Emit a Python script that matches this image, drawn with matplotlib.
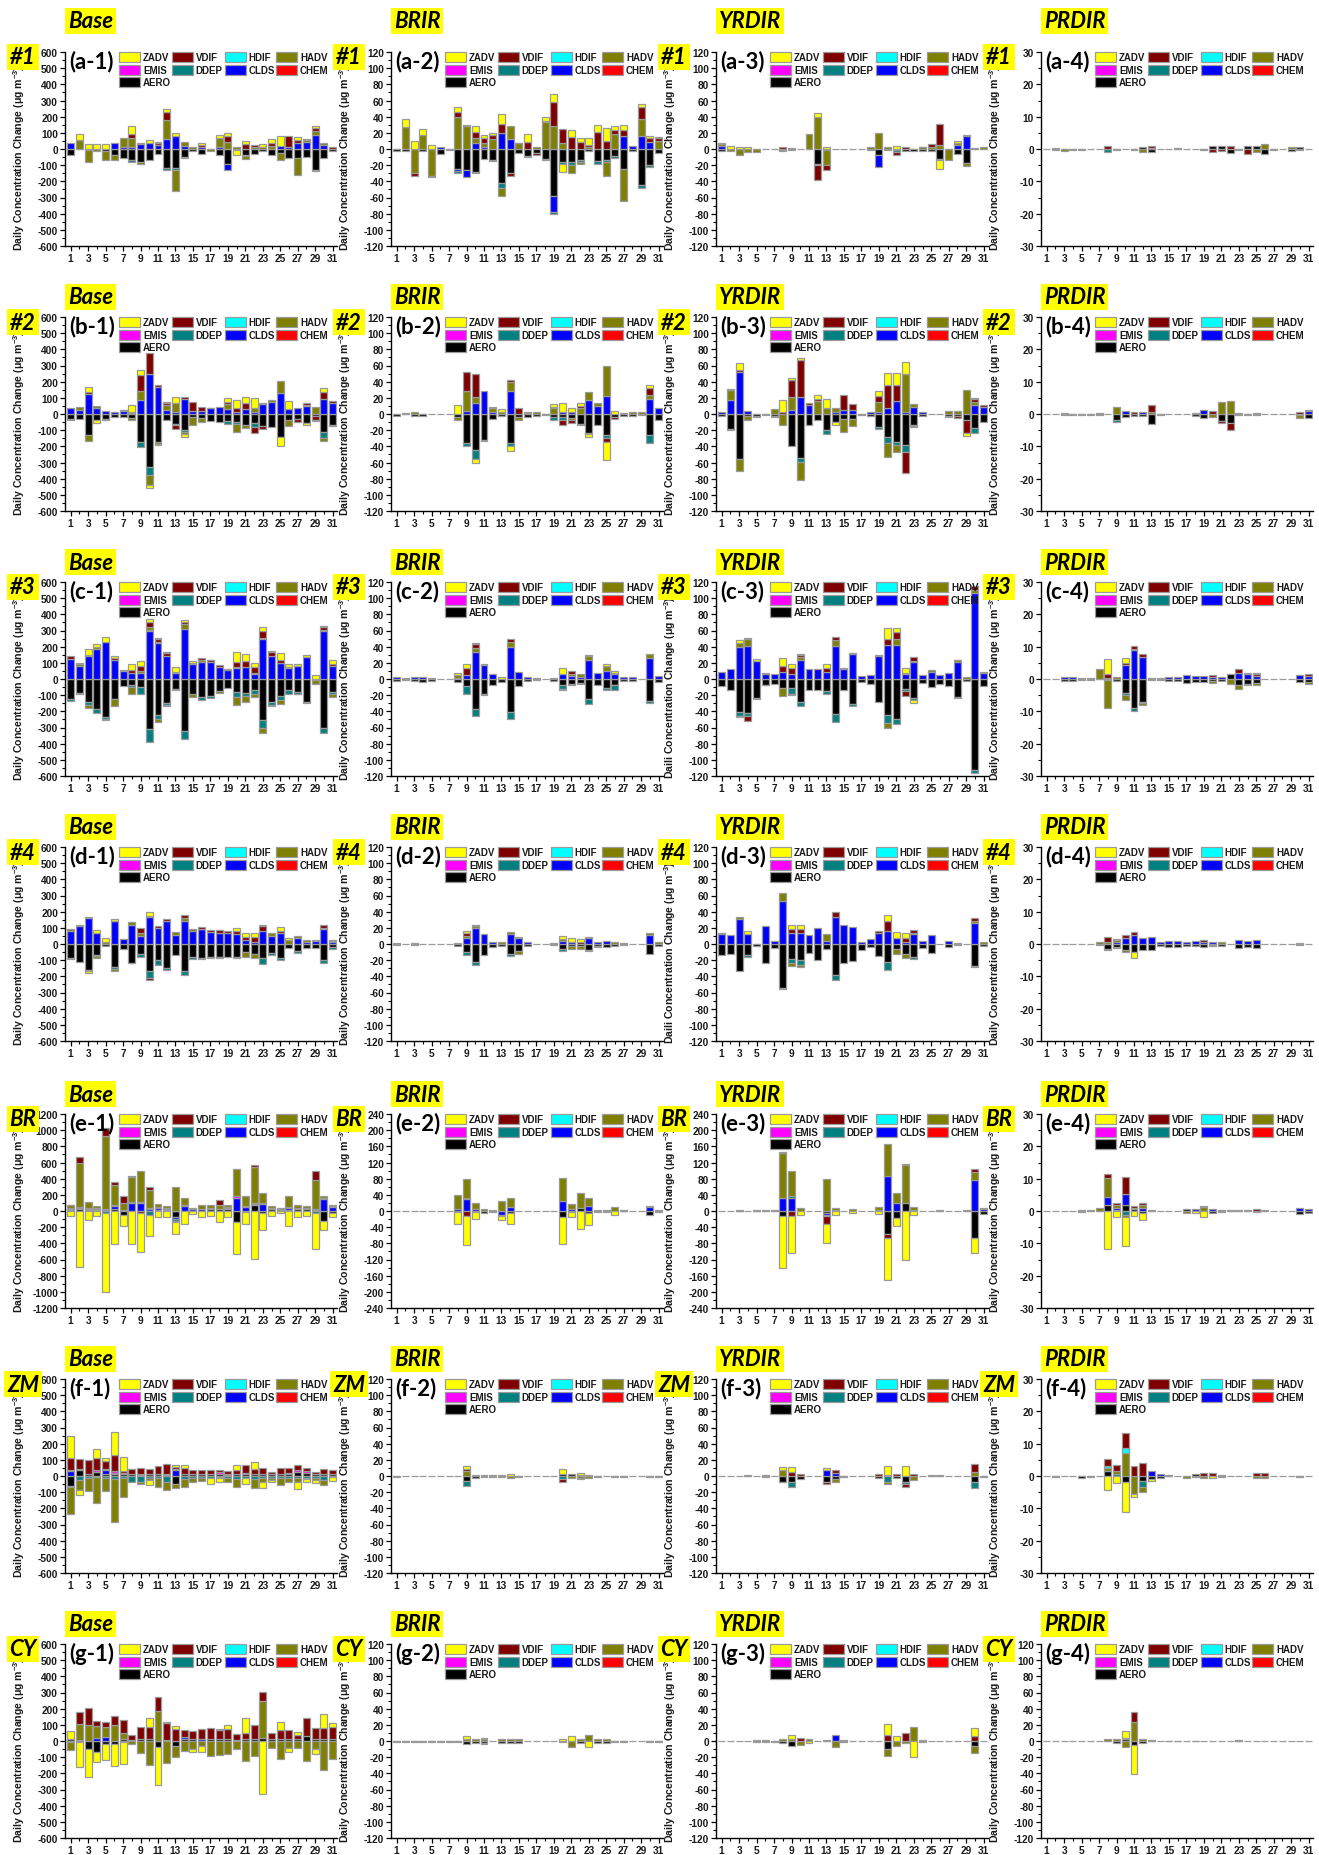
import matplotlib
matplotlib.use('Agg')
import matplotlib.pyplot as plt
from matplotlib.patches import Rectangle
from matplotlib.ticker import MultipleLocator
import numpy as np

plt.rcParams['axes.unicode_minus'] = False
plt.rcParams['mathtext.default'] = 'regular'
plt.rcParams['font.family'] = ['Liberation Sans', 'DejaVu Sans']

# ---------------- data (daily contributions) ----------------
DAYS = np.arange(1, 32)
STACK_ORDER = ['AERO', 'CHEM', 'CLDS', 'DDEP', 'EMIS', 'HADV', 'HDIF', 'VDIF', 'ZADV']
LEGEND_GRID = [['ZADV', 'VDIF', 'HDIF', 'HADV'], ['EMIS', 'DDEP', 'CLDS', 'CHEM'], ['AERO']]
COLORS = {'ZADV': '#FFFF00', 'VDIF': '#800000', 'HDIF': '#00FFFF', 'HADV': '#808000',
          'EMIS': '#FF00FF', 'DDEP': '#008080', 'CLDS': '#0000FF', 'CHEM': '#FF0000',
          'AERO': '#000000'}
COL_TITLES = ['Base', 'BRIR', 'YRDIR', 'PRDIR']
ROW_TAGS = ['#1', '#2', '#3', '#4', 'BR', 'ZM', 'CY']
ROW_LETTERS = ['a', 'b', 'c', 'd', 'e', 'f', 'g']

# ---- row a (#1) ----
A1 = dict(
    AERO={1:-35, 3:-5, 5:-10, 6:-40, 7:-55, 8:-70, 9:-80, 10:-70, 11:-30, 12:-120, 13:-115, 14:-50, 15:-10, 16:-30, 18:-40, 19:-90, 20:-5, 21:-35, 22:-30, 23:-10, 24:-40, 25:-25, 26:-55, 27:-55, 28:-50, 29:-130, 30:-55, 31:-15},
    CLDS={1:40, 6:35, 7:15, 8:10, 9:30, 10:40, 11:25, 12:60, 13:80, 14:20, 16:10, 18:15, 19:-40, 25:20, 26:15, 27:40, 28:45, 29:85, 30:25},
    DDEP={8:-10, 12:-12, 13:-12, 21:-10, 29:-5},
    HADV={2:55, 3:-75, 4:-12, 5:-60, 6:-30, 7:55, 8:60, 9:-10, 12:120, 13:-130, 14:25, 15:10, 17:-15, 18:55, 19:45, 20:10, 21:-15, 22:10, 23:10, 24:20, 25:-40, 27:-105, 28:10, 29:25, 30:10},
    VDIF={8:25, 11:15, 12:50, 14:-5, 16:15, 19:35, 21:30, 22:15, 24:20, 26:65, 27:15, 28:5, 29:20, 31:15},
    ZADV={2:40, 3:30, 4:30, 5:30, 8:45, 9:10, 10:15, 11:5, 12:20, 13:20, 16:15, 18:15, 19:20, 20:-35, 21:20, 23:20, 24:20, 25:60, 27:20, 29:10},
)
A2 = dict(
    AERO={1:-2, 2:-2, 4:-3, 6:-6, 7:-1, 8:-25, 9:-26, 10:-28, 11:-12, 12:-13, 13:-42, 14:-30, 15:-5, 16:-9, 17:-5, 18:-12, 19:-58, 20:-16, 21:-16, 22:-14, 23:-2, 24:-15, 25:-14, 26:-9, 27:-25, 28:-3, 29:-45, 30:-20, 31:-5},
    CLDS={6:2, 8:-2, 9:-9, 10:7, 11:3, 13:20, 14:12, 19:-20, 27:16, 28:4, 29:16, 30:9},
    DDEP={8:-3, 10:-2, 12:-2, 13:-6, 16:-1, 18:-2, 19:-3, 20:-2, 21:-4, 22:-2, 24:-3, 25:-2, 26:-2, 29:-3, 30:-2},
    HADV={2:27, 3:-30, 4:17, 5:-33, 8:40, 9:29, 10:6, 11:5, 12:12, 13:-10, 14:16, 15:7, 17:2, 18:33, 19:28, 20:8, 21:-10, 22:-2, 23:2, 25:-17, 26:19, 27:-39, 29:21, 31:10},
    VDIF={3:-3, 5:-2, 8:6, 10:8, 11:6, 12:5, 13:11, 14:-3, 16:9, 17:-2, 18:2, 19:30, 20:17, 21:15, 22:9, 23:3, 24:21, 25:10, 26:5, 27:7, 29:15, 30:5, 31:3},
    ZADV={2:10, 3:10, 4:8, 5:5, 8:6, 9:1, 10:8, 11:3, 12:3, 13:12, 15:1, 16:9, 18:4, 19:10, 20:-10, 21:9, 22:5, 23:8, 24:9, 25:16, 26:4, 27:7, 29:4, 30:2, 31:2},
)
A3 = dict(
    AERO={1:-3, 9:-1, 12:-18, 13:-1, 18:-1, 19:-8, 20:-1, 21:-1, 22:-3, 23:-2, 24:-2, 25:-2, 26:-12, 28:-6, 29:-17},
    CLDS={1:4, 8:-1, 19:-14, 28:5, 29:16},
    DDEP={8:-2, 12:-2, 21:-3, 26:-2},
    HADV={1:2, 2:-2, 3:-7, 4:-4, 5:-4, 9:1, 11:19, 12:40, 13:-19, 18:3, 19:20, 20:3, 24:2, 25:2, 26:5, 27:-14, 28:3, 29:-4, 30:1, 31:3},
    VDIF={1:1, 8:2, 12:-18, 13:-6, 21:-4, 22:2, 24:1, 25:4, 26:26, 29:1},
    ZADV={2:4, 3:3, 4:3, 12:4, 13:3, 21:4, 26:-11, 28:2},
)
A4 = dict(
    AERO={2:-0.4, 9:-0.3, 11:-0.3, 12:0.7, 13:-0.8, 16:0.3, 19:-0.3, 20:0.9, 21:0.8, 22:-1.2, 23:-0.4, 24:1.0, 25:0.9, 26:-1.4, 27:-0.4, 29:-0.6, 30:0.6},
    CLDS={30:-0.4},
    DDEP={8:-1.0},
    HADV={2:0.4, 3:-0.5, 4:-0.2, 5:-0.3, 12:-0.8, 13:0.3, 25:-0.8, 26:1.5, 29:0.6},
    VDIF={8:0.8, 13:0.7, 20:-1.0, 21:-0.7, 22:1.0, 24:-1.4},
)
# ---- row b (#2) ----
B1 = dict(
    AERO={1:-30, 2:-30, 3:-130, 4:-35, 5:-30, 6:-20, 7:-20, 8:-25, 9:-175, 10:-325, 11:-175, 12:-35, 13:-60, 14:-100, 15:-20, 16:-25, 17:-45, 18:-50, 19:-45, 20:-50, 21:-65, 22:-55, 23:-75, 24:-80, 25:-140, 26:-40, 27:-30, 28:-55, 29:-15, 30:-110, 31:-70},
    CLDS={1:35, 2:25, 3:125, 4:35, 5:20, 6:15, 7:20, 8:5, 9:85, 10:245, 11:165, 12:25, 13:10, 14:90, 15:20, 16:20, 17:35, 18:45, 19:30, 20:15, 21:30, 22:10, 23:60, 24:75, 25:130, 26:30, 27:35, 28:50, 30:95, 31:70},
    DDEP={9:-30, 10:-55, 13:-10, 14:-10, 19:-15, 20:-10, 22:-25, 30:-40},
    HADV={1:-5, 2:20, 3:-35, 4:15, 5:-10, 7:5, 8:-10, 9:55, 10:-60, 11:-10, 12:30, 13:60, 14:-15, 15:-50, 16:-25, 19:30, 20:-50, 21:-20, 22:30, 23:10, 24:10, 25:75, 26:-35, 28:5, 29:45, 30:-15, 31:-5},
    VDIF={3:10, 8:10, 9:100, 10:130, 11:15, 12:10, 13:-25, 14:15, 15:55, 16:25, 17:5, 19:15, 20:25, 21:40, 22:-35, 23:-15, 27:-20, 28:10, 29:-20, 30:40, 31:10},
    ZADV={3:35, 4:-20, 8:40, 9:30, 10:-15, 11:-5, 12:10, 13:35, 14:-20, 19:25, 20:45, 21:35, 22:60, 25:-60, 26:50, 28:-10, 29:-10, 30:25},
)
B2 = dict(
    AERO={1:-2, 3:-3, 4:-2, 8:-4, 9:-36, 10:-45, 11:-32, 12:-6, 13:-3, 14:-36, 15:-4, 16:-4, 17:-2, 18:-1, 19:-4, 20:-4, 21:-5, 22:-12, 23:-23, 24:-13, 25:-26, 26:-4, 27:-3, 28:-2, 29:-1, 30:-26, 31:-8},
    CLDS={9:4, 10:14, 11:29, 12:3, 14:29, 20:2, 21:3, 23:17, 24:10, 25:22, 30:19, 31:7},
    DDEP={9:-4, 10:-11, 14:-3, 19:-3, 20:-3, 22:-2, 25:-4, 30:-10},
    HADV={2:1, 3:2, 8:-4, 9:24, 10:7, 12:4, 13:2, 14:11, 15:-3, 16:1, 17:2, 19:7, 21:-2, 22:8, 23:10, 24:3, 25:37, 28:2, 29:2, 30:4},
    VDIF={9:24, 10:28, 12:2, 14:2, 15:7, 16:2, 19:2, 20:-6, 21:-4, 22:2, 23:-2, 25:-5, 26:-2, 27:1, 30:9},
    ZADV={8:11, 10:-4, 11:-2, 13:4, 14:-7, 19:3, 20:11, 21:5, 22:3, 23:-3, 25:-22, 26:4, 30:4},
)
B3 = dict(
    AERO={1:-2, 2:-19, 3:-56, 4:-3, 5:-2, 6:-1, 7:-2, 9:-39, 10:-55, 11:-14, 12:-8, 13:-20, 14:-10, 15:-6, 16:-6, 17:-1, 18:-3, 19:-16, 20:-28, 21:-35, 22:-38, 23:-13, 24:-3, 27:-2, 28:-2, 29:-8, 30:-17, 31:-10},
    CLDS={1:2, 2:17, 3:52, 4:4, 9:5, 10:21, 11:11, 14:3, 15:5, 16:5, 18:3, 19:3, 20:8, 21:16, 22:2, 23:9, 24:3, 30:11, 31:9},
    DDEP={10:-4, 13:-5, 19:-2, 20:-8, 21:-3, 22:-9, 30:-7},
    HADV={2:13, 3:-14, 4:-4, 5:-2, 7:6, 8:-14, 9:16, 10:-23, 12:16, 13:7, 14:4, 15:-16, 16:-9, 19:12, 20:-17, 21:-9, 22:48, 23:3, 27:4, 28:4, 29:30, 30:4},
    VDIF={2:-1, 3:3, 7:-2, 8:3, 9:21, 10:46, 11:2, 12:3, 15:18, 16:7, 19:7, 20:28, 21:20, 22:-26, 23:-2, 27:-2, 28:-3, 29:-16, 30:3, 31:2},
    ZADV={2:1, 3:8, 8:14, 9:3, 10:2, 12:5, 13:11, 14:-3, 19:7, 20:15, 21:15, 22:14, 23:-1, 29:-3, 30:2},
)
B4 = dict(
    AERO={3:-0.4, 4:-0.3, 5:-0.3, 6:-0.2, 7:-0.4, 9:-2.0, 10:-0.8, 11:-0.5, 12:-0.6, 13:-3.0, 14:-0.3, 18:-0.5, 19:-1.3, 21:-2.3, 22:-2.8, 23:-0.4, 24:-0.3, 25:-0.3, 30:-0.4, 31:-1.2},
    CLDS={10:0.8, 12:0.7, 18:0.2, 19:1.3, 25:0.3, 31:0.8},
    DDEP={9:-0.4},
    HADV={3:0.3, 7:0.2, 9:2.3, 13:0.7, 20:-1.0, 21:3.8, 22:4.0, 30:-0.8},
    VDIF={11:0.5, 13:2.2, 20:1.0, 21:-0.5, 22:-2.0, 23:0.4, 30:0.5, 31:0.4},
)
# ---- row c (#3) ----
C1 = dict(
    AERO={1:-125, 2:-85, 3:-140, 4:-185, 5:-235, 6:-122, 7:-45, 8:-40, 9:-50, 10:-310, 11:-225, 12:-150, 13:-60, 14:-320, 15:-95, 16:-110, 17:-105, 18:-75, 19:-55, 20:-80, 21:-85, 22:-70, 23:-255, 24:-145, 25:-105, 26:-65, 27:-80, 28:-140, 29:-5, 30:-305, 31:-80},
    CLDS={1:125, 2:80, 3:140, 4:185, 5:230, 6:120, 7:50, 8:40, 9:40, 10:300, 11:220, 12:145, 13:35, 14:310, 15:90, 16:105, 17:105, 18:75, 19:55, 20:70, 21:75, 22:30, 23:245, 24:140, 25:100, 26:65, 27:80, 28:135, 30:295, 31:80},
    DDEP={1:-10, 2:-10, 3:-20, 4:-25, 5:-10, 8:-10, 9:-45, 10:-80, 11:-25, 12:-10, 14:-50, 16:-20, 17:-10, 20:-30, 21:-20, 22:-20, 23:-50, 24:-15, 25:-25, 26:-30, 27:-10, 30:-30, 31:-10},
    EMIS={10:5, 11:10, 20:5, 22:5, 23:10, 30:10},
    HADV={2:10, 3:-20, 4:15, 5:-10, 6:-43, 8:-40, 9:10, 10:15, 11:-15, 12:-10, 13:-10, 14:30, 15:-15, 16:10, 18:-10, 20:-50, 21:-35, 22:-20, 23:-30, 24:-10, 25:-25, 27:-5, 28:-10, 29:-25, 31:-20},
    VDIF={1:15, 3:10, 6:10, 7:5, 8:15, 9:30, 10:35, 11:15, 12:15, 13:10, 14:10, 15:10, 16:15, 17:10, 18:10, 19:5, 20:30, 21:35, 22:40, 23:45, 24:25, 25:20, 26:10, 30:15, 31:15},
    ZADV={2:10, 3:35, 4:15, 5:30, 6:15, 8:40, 9:30, 10:15, 11:10, 12:5, 13:30, 14:15, 15:10, 17:5, 20:65, 21:45, 22:25, 23:20, 24:10, 25:40, 26:15, 27:10, 28:15, 29:25, 30:10, 31:20},
)
C2 = dict(
    AERO={1:-3, 2:-1, 3:-3, 4:-4, 5:-2, 8:-4, 9:-9, 10:-37, 11:-18, 12:-7, 13:-4, 14:-41, 15:-9, 16:-3, 17:-1, 19:-2, 20:-7, 21:-6, 22:-5, 23:-25, 24:-8, 25:-11, 26:-7, 27:-3, 28:-2, 30:-27, 31:-4},
    CHEM={26:-1},
    CLDS={1:3, 2:1, 3:3, 4:3, 5:1, 8:1, 9:5, 10:33, 11:17, 12:6, 14:39, 15:9, 16:3, 17:1, 19:1, 20:6, 21:4, 22:3, 23:24, 24:8, 25:10, 26:6, 27:3, 28:2, 30:26, 31:4},
    DDEP={9:-10, 10:-9, 11:-2, 14:-8, 20:-5, 21:-2, 22:-1, 23:-6, 25:-3, 26:-5, 30:-3},
    HADV={8:4, 10:5, 14:7, 20:-1, 21:2, 22:3, 23:5, 25:6, 26:2, 30:5},
    VDIF={9:9, 10:5, 11:2, 14:4, 21:4},
    ZADV={8:2, 9:5, 10:2, 13:3, 20:8, 23:1, 25:2, 26:2},
)
C3 = dict(
    AERO={1:-9, 2:-13, 3:-41, 4:-42, 5:-24, 6:-7, 7:-6, 8:-11, 9:-11, 10:-28, 11:-13, 12:-13, 13:-15, 14:-43, 15:-13, 16:-31, 17:-4, 18:-6, 19:-29, 20:-44, 21:-49, 22:-12, 23:-23, 24:-5, 25:-10, 26:-6, 27:-9, 28:-22, 29:-2, 30:-112, 31:-9},
    CLDS={1:9, 2:12, 3:40, 4:41, 5:22, 6:6, 7:6, 8:9, 9:6, 10:24, 11:12, 12:12, 13:9, 14:41, 15:12, 16:31, 17:4, 18:5, 19:29, 20:42, 21:42, 22:6, 23:21, 24:5, 25:9, 26:5, 27:8, 28:21, 30:107, 31:8},
    DDEP={3:-5, 4:-4, 9:-7, 10:-6, 13:-3, 14:-10, 16:-2, 20:-10, 21:-7, 22:-3, 23:-3, 30:-4},
    HADV={3:4, 4:8, 6:1, 8:-10, 9:-2, 10:3, 14:7, 15:1, 16:1, 19:1, 20:-6, 21:7, 22:2, 23:1, 25:2, 28:2, 29:2, 30:3, 31:1},
    VDIF={3:-1, 4:-6, 5:-1, 6:-1, 8:7, 9:8, 10:3, 13:4, 14:4, 20:8, 21:9, 22:-6, 23:5, 28:-1, 30:5},
    ZADV={3:4, 4:2, 5:3, 8:10, 9:4, 10:1, 13:6, 20:13, 21:5, 22:5, 23:-4, 28:1},
)
C4 = dict(
    AERO={3:-0.6, 4:-0.7, 5:-0.3, 6:-0.3, 8:-0.3, 9:-0.5, 10:-4.3, 11:-9.0, 12:-7.0, 13:-0.4, 14:-0.4, 15:-0.7, 16:-0.6, 17:-1.1, 18:-0.9, 19:-0.9, 20:-0.6, 21:-0.6, 22:1.7, 23:-1.8, 24:-1.5, 25:-1.2, 30:-0.8, 31:-0.8},
    CLDS={3:0.6, 4:0.7, 5:0.3, 6:0.3, 8:0.4, 10:4.3, 11:9.1, 12:6.8, 14:0.4, 15:0.7, 16:0.6, 17:1.2, 18:1.0, 19:0.9, 20:0.6, 21:0.5, 23:1.8, 24:1.5, 25:1.0, 30:1.2, 31:1.0},
    DDEP={10:-0.6, 11:-0.8, 12:-0.4, 24:-0.5},
    HADV={7:3.0, 8:-8.7, 9:0.6, 10:-1.6, 11:0.3, 12:-0.6, 13:0.4, 20:-0.6, 22:-1.6, 23:-1.2, 24:0.5, 25:-0.6, 31:-0.6},
    VDIF={8:1.1, 10:0.8, 11:0.8, 12:0.8, 20:0.6, 23:1.3, 25:0.5, 31:0.5},
    ZADV={8:4.6, 10:1.4, 25:0.3},
)
# ---- row d (#4) ----
D1 = dict(
    AERO={1:-85, 2:-110, 3:-160, 4:-65, 5:-10, 6:-140, 7:-30, 8:-115, 9:-60, 10:-165, 11:-100, 12:-150, 13:-65, 14:-165, 15:-80, 16:-85, 17:-80, 18:-80, 19:-80, 20:-80, 21:-50, 22:-60, 23:-85, 24:-55, 25:-85, 26:-25, 27:-45, 28:-25, 29:-25, 30:-100, 31:-20},
    CLDS={1:80, 2:110, 3:160, 4:65, 6:140, 7:30, 8:120, 9:50, 10:165, 11:100, 12:145, 13:55, 14:145, 15:80, 16:90, 17:75, 18:70, 19:70, 20:60, 21:25, 22:15, 23:80, 24:50, 25:65, 27:40, 28:15, 29:20, 30:95, 31:10},
    DDEP={1:-5, 3:-10, 4:-10, 6:-15, 8:-5, 9:-20, 10:-45, 11:-30, 12:-10, 14:-25, 15:-15, 16:-5, 17:-5, 18:-5, 20:-5, 23:-40, 24:-10, 25:-15, 27:-10, 30:-15, 31:-10},
    HADV={1:15, 2:5, 3:10, 4:-10, 5:10, 6:-15, 8:15, 9:15, 10:10, 13:20, 14:15, 15:10, 16:5, 21:-30, 22:-25, 24:15, 26:25, 27:10, 28:10, 29:5, 30:5, 31:10},
    VDIF={6:5, 9:35, 10:-10, 11:10, 12:10, 14:20, 16:10, 17:10, 18:15, 19:10, 20:20, 21:20, 22:30, 23:30, 25:15, 30:15},
    ZADV={3:-10, 4:20, 5:25, 6:10, 10:25, 20:20, 21:20, 22:25, 23:10, 25:25, 26:10, 31:5},
)
D2 = dict(
    AERO={1:-1, 3:-1, 8:-3, 9:-10, 10:-22, 11:-13, 12:-4, 13:-3, 14:-12, 15:-9, 16:-3, 19:-1, 20:-6, 21:-3, 22:-2, 23:-8, 24:-3, 25:-4, 26:-2, 27:-1, 30:-12, 31:-3},
    CLDS={1:1, 3:1, 8:1, 9:7, 10:20, 11:12, 12:3, 14:12, 15:8, 16:3, 19:1, 20:4, 21:2, 23:7, 24:3, 25:4, 27:1, 30:11},
    DDEP={9:-4, 10:-4, 14:-3, 20:-3, 23:-1},
    HADV={9:3, 10:2, 13:3, 14:3, 15:-3, 20:2, 21:-3, 22:-4, 24:-1, 26:2, 30:2, 31:2},
    VDIF={9:3, 10:2, 15:1, 21:1, 22:2, 23:2},
    ZADV={9:3, 20:4, 21:5, 22:4},
)
D3 = dict(
    AERO={1:-14, 2:-12, 3:-33, 4:-14, 5:-2, 6:-23, 7:-5, 8:-54, 9:-18, 10:-20, 11:-11, 12:-20, 13:-6, 14:-38, 15:-23, 16:-21, 17:-8, 18:-4, 19:-15, 20:-22, 21:-6, 22:-12, 23:-16, 24:-5, 25:-11, 27:-4, 28:-1, 30:-27, 31:-3},
    CLDS={1:12, 2:11, 3:31, 4:12, 6:22, 7:4, 8:53, 9:14, 10:13, 11:11, 12:20, 13:4, 14:33, 15:23, 16:21, 17:3, 18:6, 19:14, 20:16, 21:8, 22:3, 23:12, 24:4, 25:11, 27:4, 30:26},
    DDEP={4:-2, 8:-2, 9:-5, 10:-6, 14:-6, 20:-10, 23:-2, 30:-2},
    HADV={1:1, 3:2, 8:10, 9:-4, 10:-3, 13:8, 21:-6, 22:-5, 23:1, 28:1, 30:2, 31:3},
    VDIF={9:5, 10:5, 14:6, 19:2, 20:13, 22:4, 23:4, 30:4},
    ZADV={4:4, 9:5, 10:6, 20:7, 21:7, 22:7},
)
D4 = dict(
    AERO={7:-0.3, 8:-1.5, 9:-1.0, 10:-1.8, 11:-2.5, 12:-2.0, 13:-2.0, 14:-0.5, 15:-0.8, 16:-1.0, 17:-0.7, 18:-0.6, 19:-1.0, 20:-0.4, 21:-0.5, 23:-1.2, 24:-1.0, 25:-1.2, 30:-0.3},
    CLDS={9:0.5, 10:2.0, 11:2.8, 12:2.0, 13:2.2, 14:0.5, 15:0.8, 16:1.0, 17:0.7, 18:0.8, 19:0.7, 20:0.5, 23:1.3, 24:1.0, 25:1.2, 30:0.3},
    DDEP={8:-0.4, 9:-0.3},
    HADV={7:0.5, 8:0.6, 9:0.6, 10:-0.6, 20:-0.3, 21:0.5},
    VDIF={8:1.6, 10:0.8, 11:1.0, 19:0.5},
    ZADV={9:0.6, 11:-1.8},
)
# ---- row e (BR) ----
E1 = dict(
    AERO={1:10, 2:20, 3:10, 4:10, 5:15, 6:20, 7:-50, 11:10, 12:10, 13:-70, 17:20, 18:20, 19:20, 20:-140, 21:-10, 22:80, 23:-30, 24:20, 25:10, 26:10, 27:20, 28:20, 29:10, 30:-120, 31:-30},
    CLDS={1:20, 2:20, 3:20, 4:20, 6:40, 8:100, 9:100, 10:30, 11:30, 12:20, 13:-30, 14:60, 15:20, 16:20, 17:10, 19:20, 20:160, 21:50, 22:10, 23:90, 24:10, 25:10, 26:30, 27:10, 28:10, 29:10, 30:150, 31:50},
    DDEP={5:-20, 10:-50, 13:-20, 29:-30},
    EMIS={1:10, 2:10, 3:10, 4:10, 5:10, 6:10, 7:10, 8:10, 9:10, 10:10, 11:10, 12:10, 13:5, 14:10, 15:10, 16:10, 17:10, 18:10, 19:10, 20:20, 21:10, 22:10, 23:10, 24:10, 25:10, 26:10, 27:10, 28:10, 29:10, 30:10, 31:10},
    HADV={1:35, 2:540, 3:70, 4:20, 5:900, 6:250, 7:90, 8:310, 9:390, 10:220, 11:40, 12:20, 13:290, 14:90, 15:10, 16:50, 17:40, 18:50, 19:30, 20:340, 21:130, 22:440, 23:120, 24:20, 25:10, 26:140, 27:30, 28:20, 29:350, 30:30, 31:20},
    VDIF={1:5, 2:80, 5:100, 6:40, 7:90, 8:10, 9:-30, 10:40, 13:-20, 18:50, 22:30, 29:120},
    ZADV={1:-60, 2:-690, 3:-110, 4:-60, 5:-980, 6:-410, 7:-130, 8:-410, 9:-480, 10:-260, 11:-80, 12:-70, 13:-150, 14:-160, 15:-40, 16:-70, 17:-60, 18:-140, 19:-80, 20:-390, 21:-150, 22:-590, 23:-200, 24:-60, 25:-30, 26:-190, 27:-80, 28:-60, 29:-440, 30:-110, 31:-50},
)
E2 = dict(
    AERO={8:-3, 10:-3, 11:-4, 12:-2, 14:-4, 20:-16, 21:-2, 22:7, 23:-6, 24:-2, 25:-2, 27:-1, 30:-10, 31:-2},
    CLDS={8:5, 9:30, 10:4, 13:-10, 14:11, 20:25, 21:5, 23:12, 30:10, 31:2},
    DDEP={9:2, 13:-2},
    HADV={8:35, 9:46, 10:15, 11:4, 12:2, 13:25, 14:22, 20:56, 21:13, 22:38, 23:20, 24:3, 25:3, 26:10, 27:2, 30:2},
    VDIF={9:-13},
    ZADV={8:-30, 9:-70, 10:-17, 13:-10, 14:-29, 20:-65, 21:-12, 22:-45, 23:-28, 26:-10},
)
E3 = dict(
    AERO={3:-1, 5:-1, 8:-12, 13:-4, 20:-56, 21:-18, 22:20, 30:-68, 31:-7},
    CLDS={8:33, 9:32, 13:-6, 14:3, 19:3, 20:86, 21:20, 23:3, 30:77, 31:5},
    DDEP={9:4, 13:-3},
    HADV={3:3, 5:2, 6:2, 7:3, 8:110, 9:62, 10:8, 13:79, 14:5, 16:4, 19:6, 20:81, 21:24, 22:93, 23:6, 26:3, 29:2, 30:20, 31:2},
    VDIF={8:4, 9:-12, 13:-20, 20:-12, 22:4, 30:6},
    ZADV={8:-128, 9:-92, 10:-10, 13:-47, 14:-10, 16:-5, 19:-7, 20:-102, 21:-20, 22:-122, 23:-10, 30:-35},
)
E4 = dict(
    AERO={5:-0.3, 8:1.8, 9:0.3, 10:2.0, 11:0.5, 12:-0.6, 17:0.5, 20:-0.5, 21:-0.3, 23:0.3, 30:-1.0, 31:-0.7},
    CLDS={8:2.4, 9:0.6, 10:3.2, 11:0.5, 12:1.0, 18:0.6, 20:0.5, 21:0.4, 30:1.0, 31:0.7},
    DDEP={10:-1.2},
    HADV={5:0.3, 6:0.3, 7:0.8, 8:5.9, 9:0.9, 10:-0.8, 12:1.0, 13:0.3, 17:-0.6, 19:1.2, 22:0.4, 24:0.3, 25:-0.4, 26:0.4},
    VDIF={8:1.3, 9:0.8, 10:5.2, 11:0.6, 12:0.6, 19:0.5, 25:0.6},
    ZADV={8:-11.7, 9:-2.0, 10:-8.8, 11:-1.5, 12:-2.2, 18:-0.5, 19:-1.8},
)
# ---- row f (ZM) ----
F1 = dict(
    AERO={1:-60, 2:35, 3:10, 4:25, 5:10, 6:10, 7:15, 8:10, 9:5, 10:10, 11:10, 12:5, 13:-50, 14:10, 15:10, 16:10, 17:10, 18:15, 19:5, 20:10, 21:15, 22:10, 23:10, 24:10, 25:10, 26:15, 27:25, 28:20, 29:10, 30:10, 31:10},
    CLDS={1:30, 5:25, 6:10, 13:40},
    DDEP={1:-5, 2:-25, 3:-15, 4:-5, 5:-10, 6:-20, 7:-15, 8:-40, 9:-35, 10:-15, 11:-15, 12:-40, 14:-20, 15:-15, 16:-10, 17:-10, 18:-5, 19:-15, 20:-20, 21:-15, 22:-20, 23:-10, 24:-10, 25:-15, 26:-10, 27:-10, 28:-10, 29:-15, 30:-25, 31:-5},
    EMIS={1:10, 2:10, 3:5, 4:10, 5:10, 6:10, 7:5, 8:5, 9:5, 10:5, 11:5, 12:5, 13:5, 14:5, 15:5, 16:5, 17:5, 18:10, 19:5, 20:5, 21:5, 22:5, 23:5, 24:5, 25:5, 26:5, 27:10, 28:10, 29:5, 30:5, 31:5},
    HADV={1:-170, 2:-60, 3:-75, 4:-160, 5:-80, 6:-265, 7:-115, 9:-15, 10:-10, 11:-50, 12:-45, 13:-25, 14:-45, 15:-25, 16:-20, 18:-10, 19:-25, 20:-45, 22:-55, 23:-30, 24:-15, 25:-40, 26:-30, 27:-30, 28:-10, 29:-10, 30:-30},
    VDIF={1:70, 2:60, 3:85, 4:75, 5:50, 6:100, 7:10, 8:30, 9:40, 10:30, 11:45, 12:65, 13:10, 14:35, 15:20, 16:20, 17:25, 18:15, 19:20, 20:20, 21:45, 22:30, 23:35, 24:10, 25:35, 26:30, 27:35, 28:20, 29:10, 30:30, 31:20},
    ZADV={1:140, 2:-30, 4:60, 5:15, 6:145, 7:85, 10:-30, 13:10, 14:20, 17:-40, 18:-20, 20:35, 21:-35, 22:40, 23:-35, 24:-10, 27:-40, 28:-20, 29:-20, 31:-25},
)
F2 = dict(
    AERO={1:-1, 9:-6, 10:-3, 11:-1, 12:-1, 13:-1, 15:-1, 20:3, 21:3, 22:1, 24:-1, 26:-1, 27:-1, 30:-1, 31:-1},
    DDEP={9:-6, 20:-4},
    HADV={9:6, 14:-3, 21:-3, 22:-3, 23:-2},
    VDIF={9:3, 20:-3, 22:-1},
    ZADV={9:3, 10:1, 11:1, 12:1, 13:1, 14:2, 20:6, 22:3, 23:1},
)
F3 = dict(
    AERO={6:-1, 8:-7, 9:-8, 10:-4, 13:-8, 14:-4, 15:-1, 19:-2, 21:-2, 22:-7, 30:-7, 31:-1},
    CLDS={13:7, 14:4},
    DDEP={9:-5, 20:-8, 22:-3, 30:-8},
    HADV={4:1, 6:1, 8:7, 14:-4, 20:-2, 23:-5, 30:5},
    VDIF={8:-1, 9:5, 10:2, 13:-2, 14:3, 19:2, 20:1, 21:2, 22:-3, 23:3, 25:1, 26:1, 30:10},
    ZADV={8:4, 9:6, 13:3, 20:11, 22:12},
)
F4 = dict(
    AERO={2:-0.3, 5:-0.6, 6:-0.3, 8:1.4, 10:-1.8, 12:-1.5, 13:-1.0, 14:-0.5, 18:0.5, 30:-0.2},
    CLDS={13:1.6, 14:0.6},
    DDEP={9:0.5, 12:-1.8},
    HADV={8:1.2, 9:1.0, 10:7.2, 11:-5.5, 12:-1.5, 15:0.3, 17:-0.5, 18:-0.4, 19:-0.6, 21:-0.4, 25:-0.5, 26:-0.6},
    HDIF={8:0.4, 10:1.4},
    VDIF={8:2.2, 9:1.8, 10:4.8, 11:3.0, 12:3.9, 19:0.8, 20:0.8, 21:0.3, 25:1.0, 26:0.9},
    ZADV={8:-4.4, 9:-2.2, 10:-9.2, 11:-1.0, 13:-0.6, 20:-0.7},
)
# ---- row g (CY) ----
G1 = dict(
    AERO={1:10, 2:5, 3:-50, 4:-70, 5:-20, 6:-20, 7:10, 8:5, 9:10, 10:10, 11:-40, 12:5, 13:-30, 14:10, 15:10, 17:10, 18:10, 19:10, 20:5, 21:10, 22:10, 23:20, 24:10, 25:10, 26:10, 27:10, 28:30, 29:10, 30:10, 31:10},
    CLDS={4:20, 5:25, 14:15, 16:10},
    DDEP={1:-5, 2:-5, 7:-5},
    EMIS={1:5},
    HADV={1:-50, 2:100, 3:100, 4:75, 5:60, 6:100, 7:40, 8:-20, 9:-75, 10:-150, 11:185, 12:-135, 13:-70, 14:-60, 15:-50, 16:-30, 17:-90, 18:-85, 19:-80, 20:-50, 21:-125, 22:-95, 23:230, 24:-45, 25:-110, 26:-45, 27:-45, 28:-125, 29:-50, 30:-180, 31:-110},
    VDIF={2:75, 3:105, 4:30, 5:35, 6:55, 7:80, 8:30, 9:75, 10:75, 11:85, 12:105, 13:75, 14:40, 15:50, 16:65, 17:70, 18:55, 19:65, 20:40, 21:40, 22:90, 23:55, 24:40, 25:55, 26:55, 27:25, 28:110, 29:70, 30:70, 31:75},
    ZADV={1:45, 2:-155, 3:-175, 4:-60, 5:-100, 6:-135, 7:-140, 10:60, 11:-230, 12:10, 13:20, 15:-15, 16:-40, 18:10, 19:25, 21:90, 23:-330, 25:50, 26:-20, 27:20, 29:-30, 30:85, 31:25},
)
G2 = dict(
    AERO={1:-1, 2:-1, 3:-1, 4:-1, 5:-1, 6:-1, 7:-1, 8:-1, 9:-4, 10:-3, 11:-2, 13:-2, 14:-2, 15:-3, 20:-1, 22:-2, 24:-2, 25:-2, 26:-1, 27:-1, 30:-1, 31:-1},
    HADV={9:2, 10:3, 11:2, 13:2, 14:2, 15:2, 21:-7, 22:2, 23:7, 24:3, 25:2},
    VDIF={11:2},
    ZADV={9:4, 11:-2, 20:3, 21:6, 23:-7},
)
G3 = dict(
    AERO={5:-1, 6:-1, 7:-1, 8:-2, 9:-6, 15:-1, 20:-10, 24:-1, 30:-6},
    CLDS={14:8},
    HADV={5:1, 6:1, 8:2, 9:3, 10:-5, 11:2, 13:1, 14:-8, 15:1, 20:-8, 21:-6, 22:-3, 23:17, 24:1, 30:-9},
    VDIF={10:4, 20:7, 22:10, 30:6},
    ZADV={9:4, 11:-3, 20:14, 21:6, 23:-20, 30:10},
)
G4 = dict(
    AERO={9:-2, 10:2, 11:-5, 12:-2, 16:-0.5, 18:-0.5},
    CLDS={13:1, 15:0.5},
    HADV={8:2, 9:3, 10:-8, 11:24, 12:2, 23:1},
    VDIF={10:2, 11:12},
    ZADV={10:8, 11:-36},
)

PANELS = [[A1, A2, A3, A4], [B1, B2, B3, B4], [C1, C2, C3, C4], [D1, D2, D3, D4],
          [E1, E2, E3, E4], [F1, F2, F3, F4], [G1, G2, G3, G4]]
# y-axis half-range for each panel
YMAX = [[600, 120, 120, 30], [600, 120, 120, 30], [600, 120, 120, 30], [600, 120, 120, 30],
        [1200, 240, 240, 30], [600, 120, 120, 30], [600, 120, 120, 120]]

# ---------------- layout ----------------
W, H = 1319, 1856
COL_LEFT = [65, 391, 716, 1041]
ROW_TOP = [53, 318, 583, 848, 1115, 1380, 1645]
AX_W, AX_H = 272, 194
EDGE = '#9a9a9a'
BAR_W = 0.8
TXT_FONT = ['Lato', 'DejaVu Sans']

fig = plt.figure(figsize=(W / 100, H / 100), dpi=100)

STEPS = {1200: (200, 100), 600: (100, 50), 240: (40, 20), 120: (20, 10), 30: (10, 5)}


def draw_panel(ax, data, ymax, label, ylabel):
    ax.bar(DAYS, np.zeros(len(DAYS)), bottom=0, width=BAR_W, color='none',
           edgecolor=EDGE, linewidth=0.9, zorder=1)
    pos = np.zeros(len(DAYS))
    neg = np.zeros(len(DAYS))
    for sp in STACK_ORDER:
        d = data.get(sp, {})
        vals = np.array([float(d.get(int(k), 0.0)) for k in DAYS])
        pm = vals > 0
        nm = vals < 0
        if pm.any():
            ax.bar(DAYS[pm], vals[pm], bottom=pos[pm], width=BAR_W, color=COLORS[sp],
                   edgecolor=EDGE, linewidth=0.9, zorder=2)
            pos[pm] += vals[pm]
        if nm.any():
            ax.bar(DAYS[nm], vals[nm], bottom=neg[nm], width=BAR_W, color=COLORS[sp],
                   edgecolor=EDGE, linewidth=0.9, zorder=2)
            neg[nm] += vals[nm]
    major, minor = STEPS[ymax]
    ax.set_ylim(-ymax, ymax)
    ax.set_xlim(0.35, 31.5)
    ax.yaxis.set_major_locator(MultipleLocator(major))
    ax.yaxis.set_minor_locator(MultipleLocator(minor))
    ax.set_xticks(np.arange(1, 32, 2))
    ax.set_xticks(np.arange(2, 31, 2), minor=True)
    for s in ['top', 'right']:
        ax.spines[s].set_visible(False)
    for s in ['left', 'bottom']:
        ax.spines[s].set_linewidth(1.0)
    ax.tick_params(which='major', direction='out', length=3.5, width=0.9, pad=1.5,
                   labelsize=7.3)
    ax.tick_params(which='minor', direction='out', length=2, width=0.8)
    for t in ax.get_xticklabels() + ax.get_yticklabels():
        t.set_fontweight('bold')
        t.set_color('#1a1a1a')
    ax.set_ylabel(ylabel, fontsize=7.6, fontweight='bold', color='#1a1a1a')
    ax.yaxis.set_label_coords(-0.14, 0.46)
    # panel label
    ax.text(0.015, 0.955, label, transform=ax.transAxes, fontsize=16,
            fontweight='bold', family=TXT_FONT, ha='left', va='center')
    # legend (Origin-like, 4 columns)
    lx = [0.20, 0.394, 0.588, 0.777]
    ly = [0.972, 0.907, 0.845]
    for i, row in enumerate(LEGEND_GRID):
        for j, sp in enumerate(row):
            ax.add_patch(Rectangle((lx[j], ly[i] - 0.026), 0.077, 0.052,
                                   transform=ax.transAxes, facecolor=COLORS[sp],
                                   edgecolor=EDGE, linewidth=0.9, clip_on=False,
                                   zorder=5))
            ax.text(lx[j] + 0.087, ly[i], sp, transform=ax.transAxes, fontsize=7,
                    fontweight='bold', ha='left', va='center', color='#1a1a1a',
                    zorder=5)


for r in range(7):
    for c in range(4):
        left = COL_LEFT[c] / W
        bottom = 1 - (ROW_TOP[r] + AX_H) / H
        ax = fig.add_axes([left, bottom, AX_W / W, AX_H / H])
        word = 'Daili' if (c == 2 and r in (2, 3)) else 'Daily'
        ylabel = word + ' Concentration Change (μg m$^{-3}$)'
        draw_panel(ax, PANELS[r][c], YMAX[r][c], '(%s-%d)' % (ROW_LETTERS[r], c + 1), ylabel)
        # column title box
        ty = ROW_TOP[r] - (31 if r == 0 else 20)
        fig.text((COL_LEFT[c] + 3) / W, 1 - ty / H, COL_TITLES[c], fontsize=16,
                 fontweight='bold', style='italic', family=TXT_FONT, ha='left',
                 va='center', bbox=dict(boxstyle='square,pad=0.12', facecolor='#FFFF00',
                                        edgecolor='none'))
        # row tag box
        fig.text((COL_LEFT[c] - 42) / W, 1 - (ROW_TOP[r] + 5) / H, ROW_TAGS[r],
                 fontsize=16, fontweight='bold', style='italic', family=TXT_FONT,
                 ha='center', va='center',
                 bbox=dict(boxstyle='square,pad=0.12', facecolor='#FFFF00',
                           edgecolor='none'))

fig.savefig('out.png', dpi=100, facecolor='white')
